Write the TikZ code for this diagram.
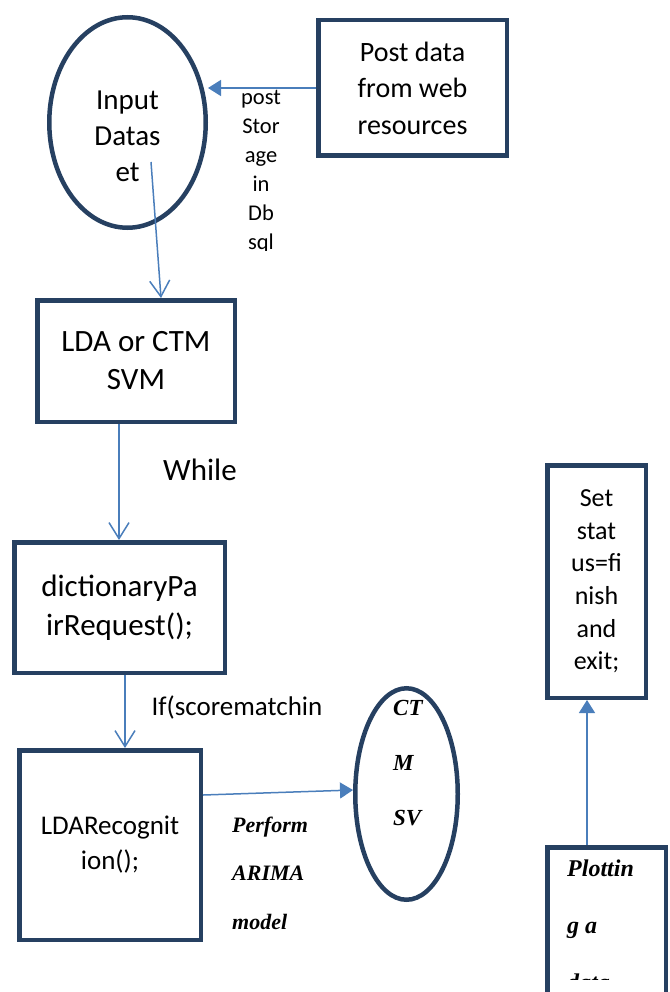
\documentclass[tikz,border=0pt]{standalone}
\usepackage{fontspec}
\setmainfont{Carlito}
\newfontfamily\tnrfamily{Liberation Serif}
\usepackage{xcolor}
\usetikzlibrary{positioning, arrows.meta, shapes.geometric, calc}
\definecolor{boxnavy}{RGB}{38,64,97}
\definecolor{linkblue}{RGB}{74,126,187}

\begin{document}
\begin{tikzpicture}[
		x=1pt, y=-1pt,
		proc/.style={rectangle, draw=boxnavy, line width=4.5pt, align=center, inner sep=0pt},
		data/.style={ellipse, draw=boxnavy, line width=4.5pt, inner sep=0pt},
		txt/.style={align=center, inner sep=0pt},
		emph/.style={align=left, inner sep=0pt},
		openarrow/.style={-{Straight Barb[length=16pt, width=20pt]}, draw=linkblue, line width=1.5pt},
		fillarrow/.style={-{Triangle[length=13pt, width=16pt]}, draw=linkblue, line width=1.5pt}
		]

		\useasboundingbox (0,0) rectangle (669,992);

		\node[data, minimum width=156.5pt, minimum height=210.5pt] (inputds) at (127.5,122.5) {};
		\node[txt, font=\fontsize{29}{36}\selectfont] (inputtxt) at (127.5,136) {Input\\Datas\\et};
		\node[proc, minimum width=188.5pt, minimum height=135.5pt, font=\fontsize{28}{36.5}\selectfont] (postdata) at (412.5,88) {Post data\\from web\\resources};

		\node[proc, minimum width=197.5pt, minimum height=121.5pt, font=\fontsize{31}{38}\selectfont] (ldabox) at (136,361) {LDA or CTM\\SVM};
		\node[proc, minimum width=210.5pt, minimum height=130.5pt, font=\fontsize{31}{39}\selectfont] (dictbox) at (119.5,607.5) {dictionaryPa\\irRequest();};
		\node[proc, minimum width=181.5pt, minimum height=189.5pt, font=\fontsize{27}{35}\selectfont] (ldarec) at (110,845) {LDARecognit\\ion();};

		\node[data, minimum width=102.5pt, minimum height=211.5pt] (ctmsv) at (406.5,794) {};
		\node[emph, anchor=west, font=\tnrfamily\bfseries\itshape\fontsize{23}{55}\selectfont] (ctmsvtxt) at (393,763) {CT\\M\\SV};

		\node[proc, minimum width=98.5pt, minimum height=232.5pt, font=\fontsize{26}{32.6}\selectfont] (setstatus) at (596.5,581.5) {Set\\stat\\us=fi\\nish\\and\\exit;};
		\node[proc, minimum width=118.5pt, minimum height=200pt] (plotbox) at (606.5,947.25) {};
		\begin{scope}
			\clip (548,850) rectangle (663,979);
			\node[emph, anchor=west, font=\tnrfamily\bfseries\itshape\fontsize{24}{57}\selectfont] (plottxt) at (567,925) {Plottin\\g a\\data};
		\end{scope}

		\begin{scope}
			\clip (200,60) rectangle (320,250);
			\node[txt, font=\fontsize{22.5}{29}\selectfont] (postlbl) at (261,172) {post\\Stor\\age\\in\\Db\\sql};
		\end{scope}
		\node[txt, font=\fontsize{31}{38}\selectfont] (whilelbl) at (200,470) {While};
		\node[txt, font=\fontsize{27}{34}\selectfont] (iflbl) at (237,707) {If(scorematchin};
		\node[emph, anchor=west, font=\tnrfamily\bfseries\itshape\fontsize{22}{48.5}\selectfont] (arimalbl) at (232,873) {Perform\\ARIMA\\model};

		\coordinate (inputtail) at (151,162);
		\coordinate (ldahead) at (161,298);

		\draw[fillarrow] (postdata.west) -- (postdata.west -| inputds.east);
		\draw[openarrow] (inputtail) -- (ldahead);
		\draw[openarrow] ([xshift=-17pt]ldabox.south) -- ([xshift=-17pt]ldabox.south |- dictbox.north);
		\draw[openarrow] ([xshift=5.5pt]dictbox.south) -- ([xshift=5.5pt]dictbox.south |- ldarec.north);
		\draw[fillarrow] ([yshift=50pt]ldarec.east) -- ([yshift=4pt]ctmsv.west);
		\draw[fillarrow] ([xshift=-19.5pt]plotbox.north) -- ([xshift=-19.5pt]plotbox.north |- setstatus.south);
	\end{tikzpicture}
\end{document}
